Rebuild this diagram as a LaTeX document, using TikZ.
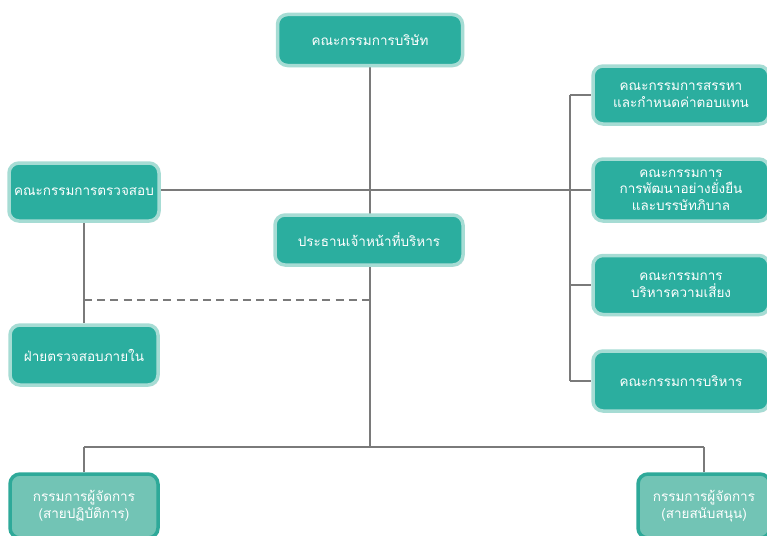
\documentclass[tikz,border=0pt]{standalone}
\usepackage{fontspec}
\newfontfamily\thaifont[Script=Thai]{Loma}
\usetikzlibrary{backgrounds,shadows}
\definecolor{teal1}{HTML}{2BAE9F}
\definecolor{tealbord}{HTML}{A6DCD4}
\definecolor{teal2}{HTML}{72C4B5}
\definecolor{tealbord2}{HTML}{2EA999}
\definecolor{linegray}{HTML}{7A7A7A}
\tikzset{
  box/.style={draw=tealbord, fill=teal1, line width=3.5pt, rounded corners=10pt,
    text=white, align=center, font=\thaifont\fontsize{13.5}{16.5}\selectfont,
    inner sep=2pt, drop shadow={opacity=0.18, shadow xshift=1.5pt, shadow yshift=-1.5pt}},
  lowbox/.style={box, fill=teal2, draw=tealbord2},
  conn/.style={draw=linegray, line width=1.2pt},
  dconn/.style={conn, dash pattern=on 8pt off 5.24pt}
}
\begin{document}
\begin{tikzpicture}[x=1pt,y=-1pt]
\useasboundingbox (0,0) rectangle (767,535);
\node[box, minimum width=185pt, minimum height=51pt] (board) at (370,40) {คณะกรรมการบริษัท};
\node[box, minimum width=176pt, minimum height=58pt] (nom) at (681,95) {คณะกรรมการสรรหา\\และกำหนดค่าตอบแทน};
\node[box, minimum width=176pt, minimum height=62pt] (sus) at (681,190) {คณะกรรมการ\\การพัฒนาอย่างยั่งยืน\\และบรรษัทภิบาล};
\node[box, minimum width=176pt, minimum height=59pt] (risk) at (681,285) {คณะกรรมการ\\บริหารความเสี่ยง};
\node[box, minimum width=176pt, minimum height=60pt] (exec) at (681,381) {คณะกรรมการบริหาร};
\node[box, minimum width=150pt, minimum height=58pt] (audit) at (84,192) {คณะกรรมการตรวจสอบ};
\node[box, minimum width=188pt, minimum height=50pt] (ceo) at (369,240) {ประธานเจ้าหน้าที่บริหาร};
\node[box, minimum width=148pt, minimum height=60pt] (ia) at (84,355) {ฝ่ายตรวจสอบภายใน};
\node[lowbox, minimum width=148pt, minimum height=64pt] (ops) at (84,506) {กรรมการผู้จัดการ\\(สายปฏิบัติการ)};
\node[lowbox, minimum width=132pt, minimum height=64pt] (sup) at (704,506) {กรรมการผู้จัดการ\\(สายสนับสนุน)};
\coordinate (hubL) at (160,190);
\coordinate (hubR) at (570,190);
\coordinate (bT) at (570,95);
\coordinate (bB) at (570,381);
\coordinate (low) at (370,447);
\coordinate (lowL) at (84,447);
\coordinate (lowR) at (704,447);
\coordinate (dashL) at (84,300);
\coordinate (dashR) at (370,300);
\begin{pgfonlayer}{background}
\draw[conn] (board.south) -- (low);
\draw[conn] (hubL) -- (hubR);
\draw[conn] (bT) -- (bB);
\draw[conn] (bT) -- (nom.west);
\draw[conn] (hubR) -- (sus.west);
\draw[conn] (risk.west -| bT) -- (risk.west);
\draw[conn] (bB) -- (exec.west);
\draw[conn] (audit.south) -- (ia.north);
\draw[dconn] (dashL) -- (dashR);
\draw[conn] (lowL) -- (lowR);
\draw[conn] (lowL) -- (ops.north);
\draw[conn] (lowR) -- (sup.north);
\end{pgfonlayer}
\end{tikzpicture}
\end{document}
